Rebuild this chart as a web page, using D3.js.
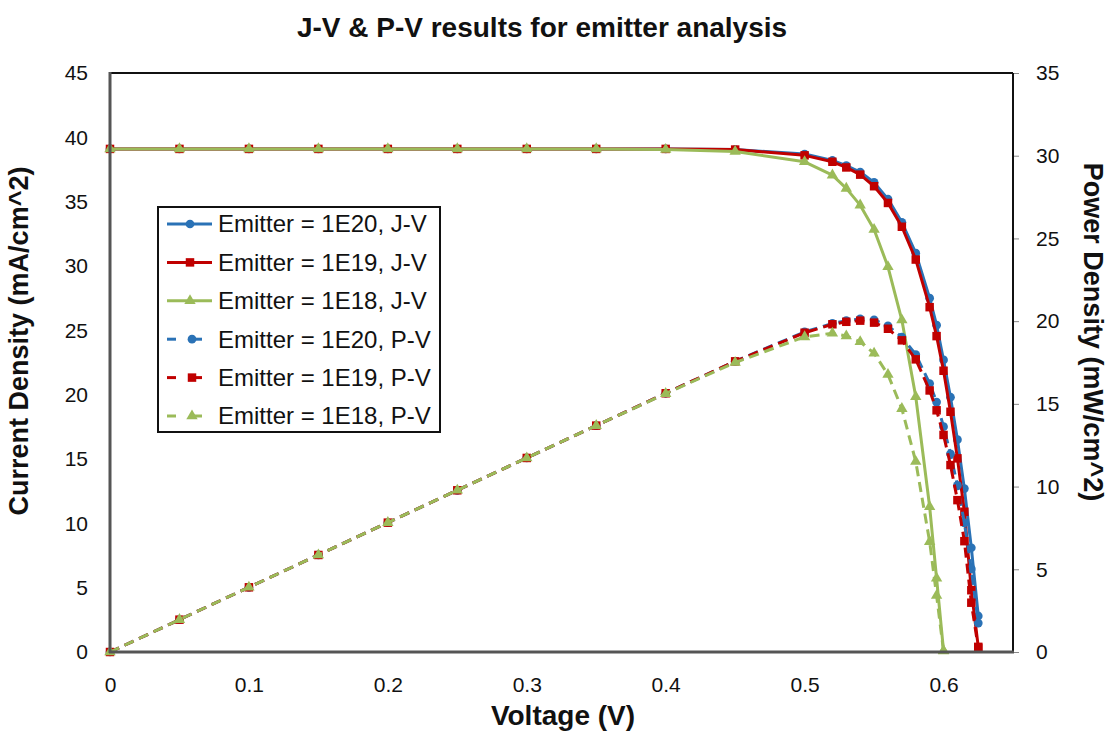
<!DOCTYPE html>
<html><head><meta charset="utf-8">
<script src="https://cdn.jsdelivr.net/npm/d3@7"></script>
<style>
html,body{margin:0;padding:0;background:#fff;}
svg{display:block;font-family:"Liberation Sans",Arial,sans-serif;}
</style></head>
<body><svg id="chart" width="1111" height="731"></svg>
<script>
// ---- data ----
const titleText = "J-V & P-V results for emitter analysis";
const xTicks = [0,0.1,0.2,0.3,0.4,0.5,0.6];
const yLeftTicks = [0,5,10,15,20,25,30,35,40,45];
const yRightTicks = [0,5,10,15,20,25,30,35];

const voltage1E20 = [0,0.05,0.1,0.15,0.2,0.25,0.3,0.35,0.4,0.45,0.5,0.52,0.53,0.54,0.55,0.56,0.57,0.58,0.59,0.595,0.6,0.605,0.61,0.615,0.62,0.625];
const jv1E20 = [39.1,39.1,39.1,39.1,39.1,39.1,39.1,39.1,39.1,39.05,38.7,38.2,37.8,37.3,36.5,35.2,33.4,31.0,27.5,25.4,22.7,19.8,16.5,12.7,8.1,2.8];
const pv1E20 = [0,1.955,3.91,5.865,7.82,9.775,11.73,13.685,15.64,17.57,19.35,19.86,20.03,20.14,20.08,19.71,19.04,17.98,16.23,15.11,13.62,11.98,10.07,7.81,5.02,1.75];

const voltage1E19 = [0,0.05,0.1,0.15,0.2,0.25,0.3,0.35,0.4,0.45,0.5,0.52,0.53,0.54,0.55,0.56,0.57,0.58,0.59,0.595,0.6,0.605,0.61,0.615,0.62,0.625];
const jv1E19 = [39.1,39.1,39.1,39.1,39.1,39.1,39.1,39.1,39.1,39.05,38.6,38.1,37.66,37.1,36.2,34.9,33.05,30.5,26.8,24.55,21.86,18.67,15.05,10.9,4.8,0.4];
const pv1E19 = [0,1.955,3.91,5.865,7.82,9.775,11.73,13.685,15.64,17.57,19.3,19.81,19.96,20.03,19.91,19.54,18.84,17.69,15.81,14.61,13.12,11.30,9.18,6.70,2.98,0.25];

const voltage1E18 = [0,0.05,0.1,0.15,0.2,0.25,0.3,0.35,0.4,0.45,0.5,0.52,0.53,0.54,0.55,0.56,0.57,0.58,0.59,0.595,0.6];
const jv1E18 = [39.1,39.1,39.1,39.1,39.1,39.1,39.1,39.1,39.05,38.9,38.1,37.06,36.03,34.73,32.84,29.94,25.8,19.84,11.29,5.73,0.1];
const pv1E18 = [0,1.955,3.91,5.865,7.82,9.775,11.73,13.685,15.62,17.5,19.05,19.27,19.1,18.75,18.06,16.77,14.71,11.51,6.67,3.41,0.06];

const seriesNames = ["Emitter = 1E20, J-V","Emitter = 1E19, J-V","Emitter = 1E18, J-V","Emitter = 1E20, P-V","Emitter = 1E19, P-V","Emitter = 1E18, P-V"];

// ---- layout ----
const svg = d3.select("#chart");
const X0=110, X1=1013, Y0=652, Y1=73;
const x = d3.scaleLinear().domain([0,0.65]).range([X0,X1]);
const yL = d3.scaleLinear().domain([0,45]).range([Y0,Y1]);
const yR = d3.scaleLinear().domain([0,35]).range([Y0,Y1]);

const colors = {b:"#2a72b6", r:"#c00000", g:"#9bbb59"};

const series = [
  {name:seriesNames[0], v:voltage1E20, val:jv1E20, axis:yL, color:colors.b, marker:"circle", dash:null},
  {name:seriesNames[1], v:voltage1E19, val:jv1E19, axis:yL, color:colors.r, marker:"square", dash:null},
  {name:seriesNames[2], v:voltage1E18, val:jv1E18, axis:yL, color:colors.g, marker:"triangle", dash:null},
  {name:seriesNames[3], v:voltage1E20, val:pv1E20, axis:yR, color:colors.b, marker:"circle", dash:"10,6"},
  {name:seriesNames[4], v:voltage1E19, val:pv1E19, axis:yR, color:colors.r, marker:"square", dash:"10,6"},
  {name:seriesNames[5], v:voltage1E18, val:pv1E18, axis:yR, color:colors.g, marker:"triangle", dash:"10,6"}
];

const symbolFor = m => m==="circle" ? d3.symbol().type(d3.symbolCircle).size(60)
  : m==="square" ? d3.symbol().type(d3.symbolSquare).size(72)
  : d3.symbol().type(d3.symbolTriangle).size(56);

const FF = "Liberation Sans, Arial, sans-serif";

// title
svg.append("text").attr("x",542).attr("y",37).attr("text-anchor","middle")
  .attr("font-size",28).attr("font-weight","bold").attr("fill","#111").text(titleText);

// axes tick labels
const gx = svg.append("g").attr("transform",`translate(0,${Y0})`)
  .call(d3.axisBottom(x).tickValues(xTicks).tickSize(0).tickPadding(25).tickFormat(d=>String(+d.toFixed(1))));
gx.select(".domain").remove();
gx.selectAll("text").attr("font-size",21).attr("fill","#111").attr("font-family",FF);

const gyl = svg.append("g").attr("transform",`translate(${X0},0)`)
  .call(d3.axisLeft(yL).tickValues(yLeftTicks).tickSize(0).tickPadding(22));
gyl.select(".domain").remove();
gyl.selectAll("text").attr("font-size",21).attr("fill","#111").attr("font-family",FF);

const gyr = svg.append("g").attr("transform",`translate(${X1},0)`)
  .call(d3.axisRight(yR).tickValues(yRightTicks).tickSize(6).tickPadding(17));
gyr.select(".domain").remove();
gyr.selectAll("line").attr("stroke","#888").attr("stroke-width",1);
gyr.selectAll("text").attr("font-size",21).attr("fill","#111").attr("font-family",FF);

// frame
svg.append("line").attr("x1",X0).attr("x2",X1).attr("y1",Y1).attr("y2",Y1).attr("stroke","#111").attr("stroke-width",2);
svg.append("line").attr("x1",X1).attr("x2",X1).attr("y1",Y1).attr("y2",Y0).attr("stroke","#111").attr("stroke-width",2);

// series
const plot = svg.append("g");
series.forEach(s=>{
  const pts = s.v.map((v,i)=>[v,s.val[i]]);
  const line = d3.line().x(d=>x(d[0])).y(d=>s.axis(d[1]));
  plot.append("path").attr("d",line(pts)).attr("fill","none").attr("stroke",s.color)
    .attr("stroke-width",3).attr("stroke-dasharray",s.dash).attr("stroke-linejoin","round");
  plot.selectAll(null).data(pts).enter().append("path")
    .attr("d",symbolFor(s.marker)).attr("fill",s.color)
    .attr("transform",d=>`translate(${x(d[0])},${s.axis(d[1])})`);
});

// left & bottom axis lines on top
svg.append("line").attr("x1",X0).attr("x2",X0).attr("y1",Y1-1).attr("y2",Y0+1).attr("stroke","#555").attr("stroke-width",3);
svg.append("line").attr("x1",X0-1).attr("x2",X1+1).attr("y1",Y0).attr("y2",Y0).attr("stroke","#555").attr("stroke-width",3);

// axis titles
svg.append("text").attr("x",563).attr("y",725).attr("text-anchor","middle")
  .attr("font-size",28).attr("font-weight","bold").attr("fill","#111").text("Voltage (V)");
svg.append("text").attr("transform","translate(28,341) rotate(-90)").attr("text-anchor","middle")
  .attr("font-size",27).attr("font-weight","bold").attr("fill","#111").text("Current Density (mA/cm^2)");
svg.append("text").attr("transform","translate(1084,332) rotate(90)").attr("text-anchor","middle")
  .attr("font-size",27).attr("font-weight","bold").attr("fill","#111").text("Power Density (mW/cm^2)");

// legend
const lg = svg.append("g");
lg.append("rect").attr("x",158).attr("y",207).attr("width",282).attr("height",225)
  .attr("fill","#fff").attr("stroke","#111").attr("stroke-width",2);
const rowY = d3.scalePoint().domain(seriesNames).range([224,416]);
series.forEach(s=>{
  const yy = rowY(s.name);
  const row = lg.append("g");
  if(s.dash){
    row.append("line").attr("x1",167).attr("x2",176).attr("y1",yy).attr("y2",yy).attr("stroke",s.color).attr("stroke-width",3);
    row.append("line").attr("x1",190).attr("x2",202).attr("y1",yy).attr("y2",yy).attr("stroke",s.color).attr("stroke-width",3);
  } else {
    row.append("line").attr("x1",167).attr("x2",212).attr("y1",yy).attr("y2",yy).attr("stroke",s.color).attr("stroke-width",3);
  }
  row.append("path").attr("d",symbolFor(s.marker)).attr("fill",s.color).attr("transform",`translate(${s.dash?192:190},${yy})`);
  row.append("text").attr("x",218).attr("y",yy).attr("dy","0.35em").attr("font-size",24).attr("fill","#111").attr("font-family",FF).text(s.name);
});
</script></body></html>
